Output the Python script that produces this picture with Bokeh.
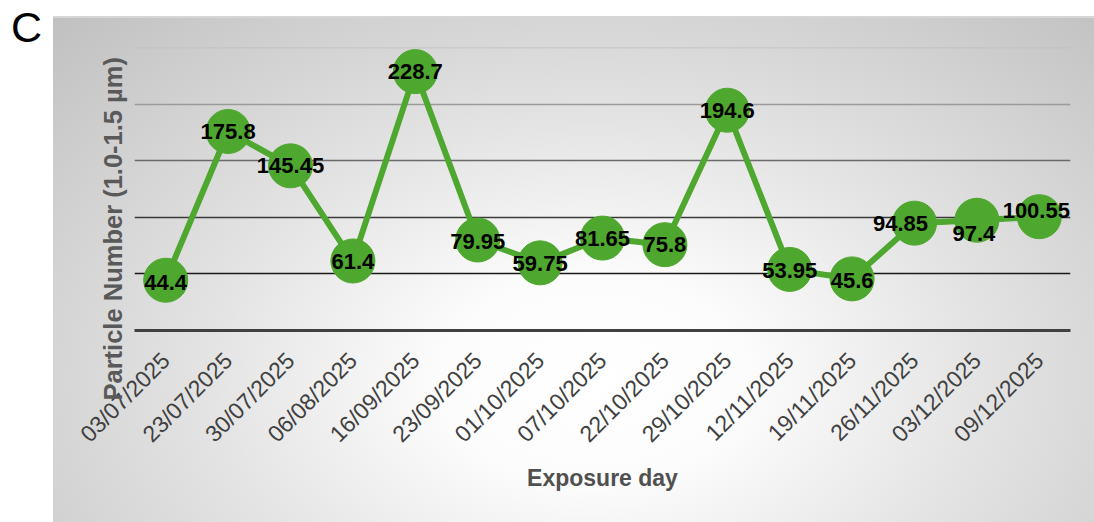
import math
from bokeh.plotting import figure
from bokeh.layouts import row
from bokeh.models import (FactorRange, Range1d, LabelSet, ColumnDataSource, FixedTicker,
                          Title, Div)
from bokeh.core.properties import value
from bokeh.embed import file_html
from bokeh.resources import INLINE

dates = ["03/07/2025", "23/07/2025", "30/07/2025", "06/08/2025", "16/09/2025",
         "23/09/2025", "01/10/2025", "07/10/2025", "22/10/2025", "29/10/2025",
         "12/11/2025", "19/11/2025", "26/11/2025", "03/12/2025", "09/12/2025"]
particles = [44.4, 175.8, 145.45, 61.4, 228.7, 79.95, 59.75, 81.65, 75.8, 194.6,
             53.95, 45.6, 94.85, 97.4, 100.55]
value_labels = ["44.4", "175.8", "145.45", "61.4", "228.7", "79.95", "59.75", "81.65",
                "75.8", "194.6", "53.95", "45.6", "94.85", "97.4", "100.55"]
grid_values = [50, 100, 150, 200, 250]

# label placement (style): pixel offsets for data labels (positive dy = up)
label_dx = [0, 0, 0, 0, 0, 0, 0, 0, 0, 0, 0, 0, -14, -3, -3]
label_dy = [-2, 0, 0, -1, 0, -2, -1, 0, 0, 0, -1, -2, 0, -13, 6]
grid_colors = ["#1a1a1a", "#3a3a3a", "#6a6a6a", "#9a9a9a", "#bdbdbd"]

GREEN = "#4ea72e"
FONT = "Liberation Sans"

p = figure(width=1041, height=506, x_range=FactorRange(factors=dates),
           y_range=Range1d(0, 250), output_backend="svg", toolbar_location=None,
           min_border_left=81, min_border_right=24, min_border_top=31,
           min_border_bottom=192)
p.margin = (16, 0, 0, 0)
p.styles = {
    "background": "radial-gradient(ellipse farthest-corner at 52% 72%, #ffffff 0%, #fcfcfc 20%, #e4e4e4 50%, #c0c0c0 100%)",
    "box-shadow": "inset 0 2px 0 #d6d6d6",
}
p.border_fill_color = None
p.background_fill_color = None
p.outline_line_color = None
p.xgrid.visible = False
p.ygrid.visible = False

p.hspan(y=grid_values, line_color=grid_colors, line_width=1.5)

p.line(dates, particles, line_color=GREEN, line_width=6)
p.scatter(dates, particles, size=44, fill_color=GREEN, line_color=GREEN)

src = ColumnDataSource(dict(x=dates, y=particles, t=value_labels, dx=label_dx, dy=label_dy))
p.add_layout(LabelSet(x="x", y="y", text="t", source=src, x_offset="dx", y_offset="dy",
                      text_align="center", text_baseline="middle", text_font=value(FONT),
                      text_font_style="bold", text_font_size="22px", text_color="#000000"))

xa = p.xaxis[0]
xa.axis_line_color = "#404040"
xa.axis_line_width = 3
xa.major_tick_line_color = None
xa.minor_tick_line_color = None
xa.major_label_orientation = math.pi / 4
xa.major_label_text_font = FONT
xa.major_label_text_font_size = "23px"
xa.major_label_text_color = "#404040"
xa.major_label_standoff = 20
xa.axis_label = "Exposure day"
xa.axis_label_text_font = FONT
xa.axis_label_text_font_style = "bold"
xa.axis_label_text_font_size = "23px"
xa.axis_label_text_color = "#505050"
xa.axis_label_standoff = 6

ya = p.yaxis[0]
ya.ticker = FixedTicker(ticks=[])
ya.axis_line_color = None
ya.major_tick_line_color = None
ya.minor_tick_line_color = None

p.add_layout(Title(text="Particle Number (1.0-1.5 µm)", align="left", offset=-70,
                   text_font=FONT, text_font_style="bold", text_font_size="25.5px",
                   text_color="#595959", standoff=15), "left")

c_div = Div(text='<div style="font-family:\'Liberation Sans\';font-size:43px;line-height:1;'
                 'color:#000;padding-left:11px;padding-top:6px;">C</div>',
            width=53, height=522, margin=0)

layout = row(c_div, p, spacing=0)
open("out.html", "w").write(file_html(layout, INLINE))
